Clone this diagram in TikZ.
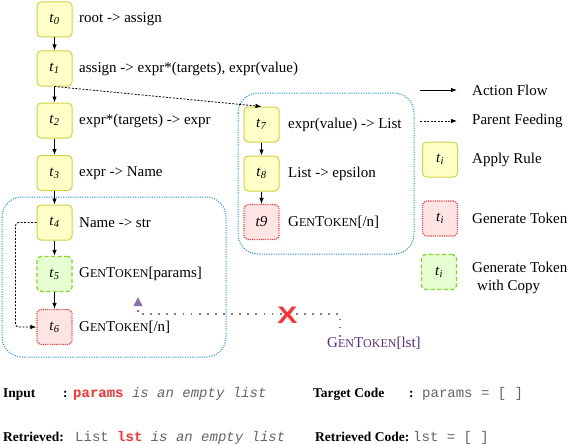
\documentclass[tikz,border=0pt]{standalone}
\usepackage{fontspec}
\setmainfont{Liberation Serif}
\setsansfont{Liberation Sans}
\setmonofont{Liberation Mono}
\usetikzlibrary{arrows.meta}

\definecolor{ruleyellow}{RGB}{255,255,200}
\definecolor{ruleborder}{RGB}{210,210,70}
\definecolor{tokred}{RGB}{255,228,228}
\definecolor{tokborder}{RGB}{255,55,55}
\definecolor{copygreen}{RGB}{230,255,210}
\definecolor{copyborder}{RGB}{135,215,35}
\definecolor{groupblue}{RGB}{30,140,255}
\definecolor{hintpurple}{RGB}{140,110,175}
\definecolor{hinttext}{RGB}{90,45,130}
\definecolor{codegray}{RGB}{100,100,100}
\definecolor{keyred}{RGB}{255,50,50}

\newcommand{\gtok}{G{\fontsize{12}{14}\selectfont EN}T{\fontsize{12}{14}\selectfont OKEN}}
\newcommand{\tsub}[1]{\textit{t}\textsubscript{\textit{#1}}}

\tikzset{
  rulebox/.style={draw=ruleborder, fill=ruleyellow, line width=1pt,
    rounded corners=4pt, minimum width=35pt, minimum height=35pt},
  tokbox/.style={rulebox, draw=tokborder, fill=tokred, line width=1.2pt,
    dash pattern=on 1.1pt off 1.1pt},
  copybox/.style={rulebox, draw=copyborder, fill=copygreen, line width=1.3pt,
    dash pattern=on 4pt off 2.5pt},
  flow/.style={-{Latex[length=6pt,width=4.5pt]}, line width=0.8pt},
  feed/.style={flow, dash pattern=on 2pt off 1.5pt},
  hint/.style={draw=hintpurple, line width=1.8pt, dash pattern=on 1.8pt off 6.3pt,
    -{Triangle[length=9pt,width=8.5pt]}},
  groupbox/.style={draw=groupblue, line width=1pt, dash pattern=on 1.1pt off 1.3pt,
    rounded corners=20pt},
  rulelabel/.style={anchor=west, inner sep=0pt},
  headtext/.style={anchor=base west, inner sep=0pt, font=\bfseries\fontsize{13.5}{16}\selectfont},
  codetext/.style={anchor=base west, inner sep=0pt, text=codegray,
    font=\ttfamily\fontsize{14}{16}\selectfont},
}

\begin{document}
\begin{tikzpicture}[x=1pt, y=-1pt, font=\fontsize{15}{18}\selectfont]
    \useasboundingbox (0,0) rectangle (570,444);

    % groups
    \draw[groupbox] (2,197) rectangle (226,357);
    \draw[groupbox] (238,93) rectangle (414,254);

    % left column
    \node[rulebox] (t0) at (54.5,19.5) {\tsub{0}};
    \node[rulelabel] (l0) at (79,19.5) {root -> assign};
    \node[rulebox] (t1) at (54.5,68.5) {\tsub{1}};
    \node[rulelabel] (l1) at (79,68.5) {assign -> expr*(targets), expr(value)};
    \node[rulebox] (t2) at (54.5,120.5) {\tsub{2}};
    \node[rulelabel] (l2) at (79,120.5) {expr*(targets) -> expr};
    \node[rulebox] (t3) at (54.5,173) {\tsub{3}};
    \node[rulelabel] (l3) at (79,173) {expr -> Name};
    \node[rulebox] (t4) at (54.5,222.5) {\tsub{4}};
    \node[rulelabel] (l4) at (79,222.5) {Name -> str};
    \node[copybox] (t5) at (54.5,274) {\tsub{5}};
    \node[rulelabel] (l5) at (79,274) {\gtok[params]};
    \node[tokbox] (t6) at (54.5,327) {\tsub{6}};
    \node[rulelabel] (l6) at (79,327) {\gtok[/n]};

    \draw[flow] (t0) -- (t1);
    \draw[flow] (t1) -- (t2);
    \draw[flow] (t2) -- (t3);
    \draw[flow] (t3) -- (t4);
    \draw[flow] (t4) -- (t5);
    \draw[flow] (t5) -- (t6);
    \draw[feed, rounded corners=3pt] (t4.west) -- ++(-21,0) |- (t6.west);

    % right column
    \node[rulebox] (t7) at (261.5,124.5) {\tsub{7}};
    \node[rulelabel] (l7) at (288,124.5) {expr(value) -> List};
    \node[rulebox] (t8) at (261.5,173.5) {\tsub{8}};
    \node[rulelabel] (l8) at (288,173.5) {List -> epsilon};
    \node[tokbox] (t9) at (261.5,222) {\textit{t9}};
    \node[rulelabel] (l9) at (288,222) {\gtok[/n]};

    \draw[flow] (t7) -- (t8);
    \draw[flow] (t8) -- (t9);
    \draw[feed] (t1.south) -- (t7.north);

    % legend
    \coordinate (af0) at (420,90);
    \coordinate (af1) at (457,90);
    \draw[flow] (af0) -- (af1);
    \node[rulelabel] (afl) at (472,90) {Action Flow};
    \coordinate (pf0) at (420,121);
    \coordinate (pf1) at (457,121);
    \draw[feed] (pf0) -- (pf1);
    \node[rulelabel] (pfl) at (472,121) {Parent Feeding};
    \node[rulebox] (kr) at (440,159.5) {\tsub{i}};
    \node[rulelabel] (krl) at (472,159.5) {Apply Rule};
    \node[tokbox] (kt) at (440,218.5) {\tsub{i}};
    \node[rulelabel] (ktl) at (472,218.5) {Generate Token};
    \node[copybox] (kc) at (439,272) {\tsub{i}};
    \node[rulelabel, align=left] (kcl) at (472,277.5) {Generate Token\\\hspace{5pt}with Copy};

    % retrieved copy hint
    \node[anchor=west, inner sep=0pt, text=hinttext] (cp) at (327,343) {\gtok[lst]};
    \coordinate (cpbend) at (340,314);
    \coordinate (cptip) at (138,297);
    \draw[hint] (cp.north -| cpbend) -- (cpbend) -- (cpbend -| cptip) -- (cptip);
    \node[text=keyred, inner sep=0pt, font=\sffamily\bfseries\fontsize{24}{24}\selectfont]
    (cross) at (287.5,315) {\scalebox{1.25}[1]{X}};

    % input and code
    \node[headtext] (inp) at (3,397) {Input};
    \node[headtext] (inpc) at (63,397) {:};
    \node[codetext] (inpq) at (73,397) {\textcolor{keyred}{\bfseries params} \textit{is an empty list}};
    \node[headtext] (tgt) at (313,397) {Target Code};
    \node[headtext] (tgtc) at (409,397) {:};
    \node[codetext] (tgtq) at (422,397) {params = [ ]};
    \node[headtext] (ret) at (3,441) {Retrieved:};
    \node[codetext] (retq) at (75,441) {List \textcolor{keyred}{\bfseries lst} \textit{is an empty list}};
    \node[headtext] (rtc) at (315,441) {Retrieved Code:};
    \node[codetext] (rtcq) at (413,441) {lst = [ ]};
\end{tikzpicture}
\end{document}
